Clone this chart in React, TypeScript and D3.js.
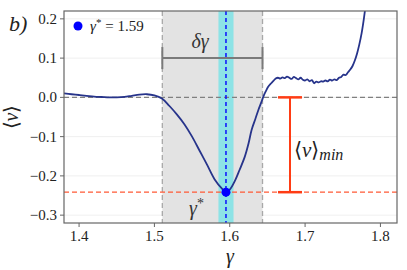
import React from "react";
import * as d3 from "d3";

const gammaVals = [1.38,1.39,1.40,1.41,1.42,1.43,1.44,1.45,1.46,1.47,1.48,1.49,1.50,1.51,1.52,1.53,1.54,1.55,1.56,1.57,1.58,1.59,1.595,1.60,1.607,1.613,1.620,1.625,1.629,1.634,1.638,1.642,1.645,1.648,1.651,1.655,1.658,1.661,1.664,1.667,1.670,1.673,1.676,1.679,1.682,1.685,1.688,1.691,1.694,1.697,1.700,1.703,1.706,1.709,1.712,1.715,1.718,1.721,1.724,1.727,1.730,1.733,1.736,1.739,1.742,1.745,1.748,1.751,1.754,1.757,1.760,1.763,1.766,1.769,1.772,1.775,1.778,1.781];
const vVals = [0.010,0.008,0.006,0.004,0.002,0.001,0.000,0.000,0.001,0.004,0.007,0.008,0.005,-0.003,-0.022,-0.044,-0.069,-0.100,-0.136,-0.172,-0.209,-0.233,-0.241,-0.235,-0.212,-0.185,-0.151,-0.117,-0.083,-0.055,-0.032,-0.012,0.004,0.016,0.027,0.036,0.042,0.048,0.050,0.048,0.051,0.049,0.053,0.050,0.047,0.052,0.049,0.046,0.050,0.045,0.043,0.046,0.041,0.044,0.036,0.040,0.038,0.041,0.040,0.043,0.041,0.045,0.043,0.046,0.044,0.050,0.052,0.058,0.057,0.064,0.071,0.080,0.094,0.112,0.135,0.163,0.200,0.245];

const xTicks = [1.4, 1.5, 1.6, 1.7, 1.8];
const yTicks = [0.2, 0.1, 0.0, -0.1, -0.2, -0.3];

const gammaStar = 1.595;
const vMin = -0.2415;
const bandLo = 1.5105;
const bandHi = 1.6435;
const cyanLo = 1.585;
const cyanHi = 1.605;
const deltaY = 0.1;
const errX = 1.68;

const W = 407, H = 270;
const L = 64, R = 397, T = 11, B = 223;
const tf = { fontFamily: "Liberation Serif, serif" };

export default function App() {
  const x = d3.scaleLinear().domain([1.38, 1.822]).range([L, R]);
  const y = d3.scaleLinear().domain([-0.32, 0.22]).range([B, T]);
  const pts = gammaVals.map((g, i) => [g, vVals[i]] as [number, number]);
  const line = d3.line<[number, number]>().x(d => x(d[0])).y(d => y(d[1])).curve(d3.curveCatmullRom.alpha(0.5))(pts) || "";
  return (
    <svg width={W} height={H} style={{ position: "absolute", left: 0, top: 0, background: "#fff" }}>
      <defs>
        <clipPath id="clip"><rect x={L} y={T} width={R - L} height={B - T} /></clipPath>
      </defs>
      {yTicks.map(t => (
        <line key={"g" + t} x1={L} x2={R} y1={y(t)} y2={y(t)} stroke="#ebebeb" strokeWidth={0.8} />
      ))}
      <rect x={x(bandLo)} y={T} width={x(bandHi) - x(bandLo)} height={B - T} fill="#e3e3e3" />
      <rect x={x(cyanLo)} y={T} width={x(cyanHi) - x(cyanLo)} height={B - T} fill="#8de3e6" />
      <line x1={x(bandLo)} x2={x(bandLo)} y1={T} y2={B} stroke="#a8a8a8" strokeWidth={1.3} strokeDasharray="5,3" />
      <line x1={x(bandHi)} x2={x(bandHi)} y1={T} y2={B} stroke="#a8a8a8" strokeWidth={1.3} strokeDasharray="5,3" />
      <line x1={L} x2={R} y1={y(0)} y2={y(0)} stroke="#808080" strokeWidth={1.3} strokeDasharray="5,3" />
      <line x1={L} x2={R} y1={y(vMin)} y2={y(vMin)} stroke="#ff5a36" strokeWidth={1.3} strokeDasharray="5,3" />
      <line x1={x(gammaStar)} x2={x(gammaStar)} y1={T} y2={B} stroke="#0000ff" strokeWidth={1.4} strokeDasharray="4,3" />
      <g clipPath="url(#clip)">
        <path d={line} fill="none" stroke="#27348b" strokeWidth={1.8} />
      </g>
      <circle cx={x(gammaStar)} cy={y(vMin)} r={4.5} fill="#0000ff" />
      <line x1={x(bandLo)} x2={x(bandHi)} y1={y(deltaY)} y2={y(deltaY)} stroke="#7a7a7a" strokeWidth={2} />
      <line x1={x(bandLo)} x2={x(bandLo)} y1={y(deltaY) - 11} y2={y(deltaY) + 11} stroke="#7a7a7a" strokeWidth={2} />
      <line x1={x(bandHi)} x2={x(bandHi)} y1={y(deltaY) - 11} y2={y(deltaY) + 11} stroke="#7a7a7a" strokeWidth={2} />
      <text x={200} y={48} textAnchor="middle" fontSize={20} fill="#333" style={tf}>
        <tspan fontStyle="italic" style={tf}>δγ</tspan>
      </text>
      <line x1={x(errX)} x2={x(errX)} y1={y(0)} y2={y(vMin)} stroke="#ff3c14" strokeWidth={2} />
      <line x1={x(errX) - 12} x2={x(errX) + 12} y1={y(0)} y2={y(0)} stroke="#ff3c14" strokeWidth={2.5} />
      <line x1={x(errX) - 12} x2={x(errX) + 12} y1={y(vMin)} y2={y(vMin)} stroke="#ff3c14" strokeWidth={2.5} />
      <text x={294} y={157} fontSize={21} fill="#222" style={tf}>
        ⟨<tspan fontStyle="italic" style={tf}>v</tspan>⟩<tspan fontStyle="italic" fontSize={16} dy={3} style={tf}>min</tspan>
      </text>
      <text x={189} y={215} fontSize={20} fill="#333" style={tf}>
        <tspan fontStyle="italic" style={tf}>γ</tspan><tspan fontSize={14} dy={-7} style={tf}>*</tspan>
      </text>
      <circle cx={78} cy={26} r={4.5} fill="#0000ff" />
      <text x={90} y={31} fontSize={15} fill="#222" style={tf}>
        <tspan fontStyle="italic" style={tf}>γ</tspan><tspan fontSize={11} dy={-5} style={tf}>*</tspan><tspan dy={5} style={tf}> = 1.59</tspan>
      </text>
      <rect x={L} y={T} width={R - L} height={B - T} fill="none" stroke="#666" strokeWidth={1.2} />
      {xTicks.map(t => (
        <g key={"x" + t}>
          <line x1={x(t)} x2={x(t)} y1={B} y2={B + 4} stroke="#666" strokeWidth={1} />
          <text x={x(t)} y={B + 18} textAnchor="middle" fontSize={15} fill="#222" style={tf}>{t.toFixed(1)}</text>
        </g>
      ))}
      {yTicks.map(t => (
        <g key={"y" + t}>
          <line x1={L - 4} x2={L} y1={y(t)} y2={y(t)} stroke="#666" strokeWidth={1} />
          <text x={L - 7} y={y(t) + 5} textAnchor="end" fontSize={15} fill="#222" style={tf}>{(t < 0 ? "\u2212" : "") + Math.abs(t).toFixed(1)}</text>
        </g>
      ))}
      <text x={230} y={263} textAnchor="middle" fontSize={20} fill="#222" style={tf}><tspan fontStyle="italic" style={tf}>γ</tspan></text>
      <text transform={`translate(18,${(T + B) / 2}) rotate(-90)`} textAnchor="middle" fontSize={20} fill="#222" style={tf}>
        ⟨<tspan fontStyle="italic" style={tf}>v</tspan>⟩
      </text>
      <text x={9} y={31} fontSize={22} fill="#222" fontStyle="italic" style={tf}>b)</text>
    </svg>
  );
}
